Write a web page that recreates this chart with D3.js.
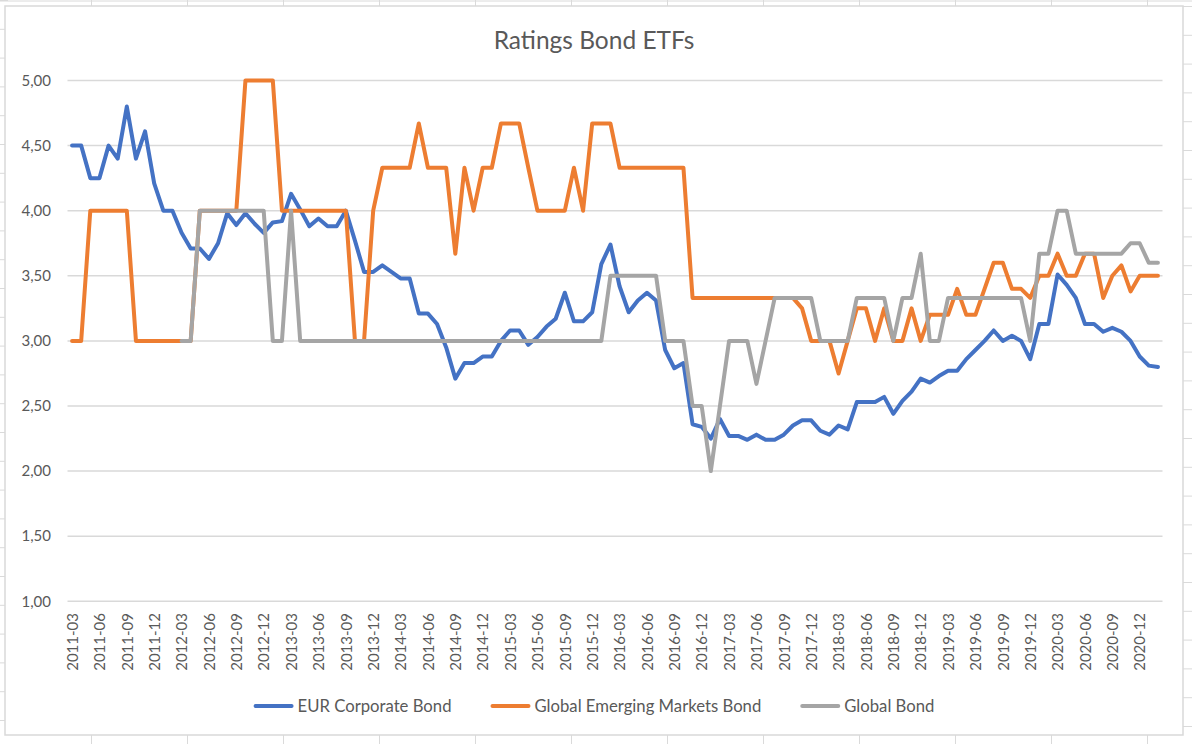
<!DOCTYPE html>
<html>
<head>
<meta charset="utf-8">
<script src="https://cdn.jsdelivr.net/npm/d3@7"></script>
<style>
  body { margin: 0; background: #fff; }
  svg { display: block; font-family: Lato, "Open Sans", sans-serif; }
</style>
</head>
<body>
<div class="chart"></div>
<script>
// monthly ratings, 2011-03 .. 2021-02
var months = d3.timeMonth.range(new Date(2011, 2, 1), new Date(2021, 2, 1)).map(d3.timeFormat("%Y-%m"));

var eurCorporate = [
  4.50,4.50,4.25,4.25,4.50,4.40,4.80,4.40,4.61,4.21,
  4.00,4.00,3.83,3.71,3.71,3.63,3.75,3.98,3.89,3.98,
  3.90,3.83,3.91,3.92,4.13,4.01,3.88,3.94,3.88,3.88,
  4.00,3.77,3.53,3.53,3.58,3.53,3.48,3.48,3.21,3.21,
  3.13,2.95,2.71,2.83,2.83,2.88,2.88,3.00,3.08,3.08,
  2.97,3.03,3.11,3.17,3.37,3.15,3.15,3.22,3.59,3.74,
  3.42,3.22,3.31,3.37,3.31,2.93,2.79,2.83,2.36,2.34,
  2.25,2.40,2.27,2.27,2.24,2.28,2.24,2.24,2.28,2.35,
  2.39,2.39,2.31,2.28,2.35,2.32,2.53,2.53,2.53,2.57,
  2.44,2.54,2.61,2.71,2.68,2.73,2.77,2.77,2.86,2.93,
  3.00,3.08,3.00,3.04,3.00,2.86,3.13,3.13,3.51,3.43,
  3.33,3.13,3.13,3.07,3.10,3.07,3.00,2.88,2.81,2.80];

var globalEmerging = [
  3.00,3.00,4.00,4.00,4.00,4.00,4.00,3.00,3.00,3.00,
  3.00,3.00,3.00,3.00,4.00,4.00,4.00,4.00,4.00,5.00,
  5.00,5.00,5.00,4.00,4.00,4.00,4.00,4.00,4.00,4.00,
  4.00,3.00,3.00,4.00,4.33,4.33,4.33,4.33,4.67,4.33,
  4.33,4.33,3.67,4.33,4.00,4.33,4.33,4.67,4.67,4.67,
  4.33,4.00,4.00,4.00,4.00,4.33,4.00,4.67,4.67,4.67,
  4.33,4.33,4.33,4.33,4.33,4.33,4.33,4.33,3.33,3.33,
  3.33,3.33,3.33,3.33,3.33,3.33,3.33,3.33,3.33,3.33,
  3.25,3.00,3.00,3.00,2.75,3.00,3.25,3.25,3.00,3.25,
  3.00,3.00,3.25,3.00,3.20,3.20,3.20,3.40,3.20,3.20,
  3.40,3.60,3.60,3.40,3.40,3.33,3.50,3.50,3.67,3.50,
  3.50,3.67,3.67,3.33,3.50,3.58,3.38,3.50,3.50,3.50];

var globalBond = [
  null,null,null,null,null,null,null,null,null,null,
  null,null,3.00,3.00,4.00,4.00,4.00,4.00,4.00,4.00,
  4.00,4.00,3.00,3.00,4.00,3.00,3.00,3.00,3.00,3.00,
  3.00,3.00,3.00,3.00,3.00,3.00,3.00,3.00,3.00,3.00,
  3.00,3.00,3.00,3.00,3.00,3.00,3.00,3.00,3.00,3.00,
  3.00,3.00,3.00,3.00,3.00,3.00,3.00,3.00,3.00,3.50,
  3.50,3.50,3.50,3.50,3.50,3.00,3.00,3.00,2.50,2.50,
  2.00,2.50,3.00,3.00,3.00,2.67,3.00,3.33,3.33,3.33,
  3.33,3.33,3.00,3.00,3.00,3.00,3.33,3.33,3.33,3.33,
  3.00,3.33,3.33,3.67,3.00,3.00,3.33,3.33,3.33,3.33,
  3.33,3.33,3.33,3.33,3.33,3.00,3.67,3.67,4.00,4.00,
  3.67,3.67,3.67,3.67,3.67,3.67,3.75,3.75,3.60,3.60];

var seriesNames = ["EUR Corporate Bond", "Global Emerging Markets Bond", "Global Bond"];
var seriesColors = ["#4472C4", "#ED7D31", "#A5A5A5"];
var yTicks = [1, 1.5, 2, 2.5, 3, 3.5, 4, 4.5, 5];
var tickLabels = months.filter(function (d, i) { return i % 3 === 0; });

var W = 1192, H = 744;
var svg = d3.select(".chart").append("svg").attr("width", W).attr("height", H);

// spreadsheet cells peeking out around the chart
var sheet = svg.append("g").attr("stroke", "#dadada").attr("stroke-width", 1);
d3.range(-4.5, W, 96).forEach(function (x) {
  sheet.append("line").attr("x1", x).attr("x2", x).attr("y1", 0).attr("y2", H);
});
d3.range(0.5, H, 28.8).forEach(function (y) {
  sheet.append("line").attr("x1", 0).attr("x2", 8).attr("y1", y).attr("y2", y);
});
d3.range(6.5, H, 28.8).forEach(function (y) {
  sheet.append("line").attr("x1", 1178).attr("x2", W).attr("y1", y).attr("y2", y);
});
sheet.append("line").attr("x1", 0).attr("x2", W).attr("y1", 1).attr("y2", 1);

// chart area
svg.append("rect")
  .attr("x", 5).attr("y", 6).attr("width", 1178).attr("height", 729)
  .attr("fill", "#fff").attr("stroke", "#d9d9d9").attr("stroke-width", 1.5);

var x = d3.scalePoint().domain(months).range([67.5, 1162.5]).padding(0.5);
var y = d3.scaleLinear().domain([1, 5]).range([601.3, 80.5]);
var fmt = d3.formatLocale({ decimal: ",", thousands: ".", grouping: [3], currency: ["", "€"] }).format(".2f");

// gridlines
svg.append("g").selectAll("line").data(yTicks).enter().append("line")
  .attr("x1", 67.5).attr("x2", 1162.5)
  .attr("y1", function (d) { return y(d); }).attr("y2", function (d) { return y(d); })
  .attr("stroke", "#d9d9d9").attr("stroke-width", 1.5);

// y axis labels
svg.append("g").selectAll("text").data(yTicks).enter().append("text")
  .attr("x", 51).attr("y", function (d) { return y(d); }).attr("dy", "0.35em")
  .attr("text-anchor", "end").attr("font-size", 15).attr("fill", "#595959")
  .text(function (d) { return fmt(d); });

// x axis labels
var xAxis = d3.axisBottom(x).tickValues(tickLabels).tickSize(0).tickPadding(0);
var gx = svg.append("g").attr("transform", "translate(0,613)").call(xAxis);
gx.select(".domain").remove();
gx.selectAll("text")
  .attr("transform", "rotate(-90)")
  .attr("x", 0).attr("y", 0).attr("dy", "0.35em")
  .attr("text-anchor", "end")
  .attr("font-size", 15).attr("font-family", "Lato, sans-serif").attr("fill", "#595959");

// lines
var line = d3.line()
  .defined(function (d) { return d != null; })
  .x(function (d, i) { return x(months[i]); })
  .y(function (d) { return y(d); });

[eurCorporate, globalEmerging, globalBond].forEach(function (vals, k) {
  svg.append("path")
    .attr("d", line(vals))
    .attr("fill", "none")
    .attr("stroke", seriesColors[k])
    .attr("stroke-width", 4)
    .attr("stroke-linejoin", "round")
    .attr("stroke-linecap", "round");
});

// title
svg.append("text")
  .attr("x", 594).attr("y", 49)
  .attr("text-anchor", "middle").attr("font-size", 24.5).attr("fill", "#595959")
  .text("Ratings Bond ETFs");

// legend, centred on the chart area
var legend = svg.append("g");
var items = legend.selectAll("g").data(seriesNames).enter().append("g");
items.append("line")
  .attr("x1", 2).attr("x2", 38).attr("y1", 0).attr("y2", 0)
  .attr("stroke", function (d, i) { return seriesColors[i]; })
  .attr("stroke-width", 4).attr("stroke-linecap", "round");
items.append("text")
  .attr("x", 44).attr("dy", "0.35em")
  .attr("font-size", 16.7).attr("fill", "#595959")
  .text(function (d) { return d; });

var offsets = [], pos = 0;
items.each(function () {
  offsets.push(pos);
  pos += 44 + d3.select(this).select("text").node().getComputedTextLength() + 39;
});
var total = pos - 39;
items.attr("transform", function (d, i) {
  return "translate(" + (594 - total / 2 + offsets[i]) + ",706)";
});
</script>
</body>
</html>
